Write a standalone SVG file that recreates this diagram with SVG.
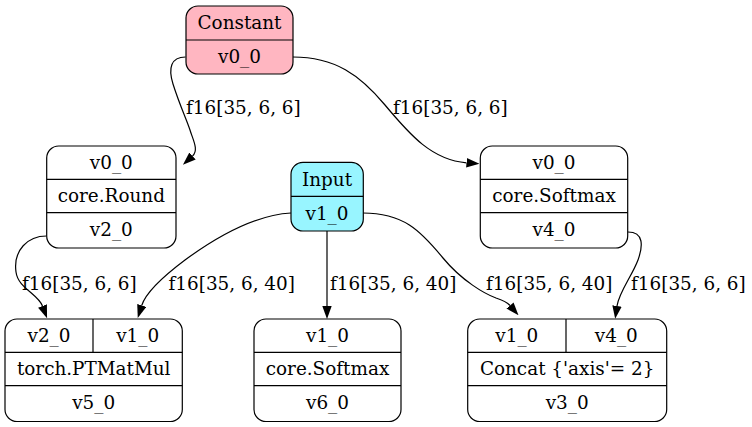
<svg xmlns="http://www.w3.org/2000/svg" width="752" height="427" viewBox="0 0 752 427">
<style>
text{font-family:"DejaVu Serif","Liberation Serif",serif;font-size:18.4px;fill:#000}
.c{text-anchor:middle}
.box{stroke:#000;stroke-width:1.2}
.div{stroke:#000;stroke-width:1.2;fill:none}
.e{fill:none;stroke:#000;stroke-width:1.2}
</style>
<defs>
<marker id="ah" viewBox="0 0 13 9.4" refX="0" refY="4.7" markerWidth="13" markerHeight="9.4" markerUnits="userSpaceOnUse" orient="auto">
<path d="M0,0 L13,4.7 L0,9.4 Z" fill="#000"/>
</marker>
</defs>
<rect width="752" height="427" fill="#fff"/>
<g id="edges">
<path class="e" marker-end="url(#ah)" d="M185.5,57 C171,57 168,68 173,84 C180,106 186,118 190,130 C193,140 199,150 192.5,156"/>
<path class="e" marker-end="url(#ah)" d="M293,57 C335,57 360,75 385,105 C410,135 432,160 466.5,162.8"/>
<path class="e" marker-end="url(#ah)" d="M46.5,236 C28,236 13,250 16,272 C18,288 38,294 42.5,306"/>
<path class="e" marker-end="url(#ah)" d="M291,213 C255,215 215,238 185,260 C165,275 146,292 141.7,305.5"/>
<path class="e" marker-end="url(#ah)" d="M327,231 L327,306"/>
<path class="e" marker-end="url(#ah)" d="M363,213 C403,213 420,230 443,258 C462,281 485,294 496,298 C502,300 507,302 510,305.5"/>
<path class="e" marker-end="url(#ah)" d="M628,232 C644,232 643,246 638,260 C632,276 619,292 617,306"/>
<text x="186" y="114">f16[35, 6, 6]</text>
<text x="393" y="114">f16[35, 6, 6]</text>
<text x="22" y="290">f16[35, 6, 6]</text>
<text x="168.5" y="290">f16[35, 6, 40]</text>
<text x="330" y="290">f16[35, 6, 40]</text>
<text x="486" y="290">f16[35, 6, 40]</text>
<text x="631" y="290">f16[35, 6, 6]</text>
</g>
<g id="node_constant">
<rect class="box" x="186" y="6" width="107" height="68" rx="12" fill="#FFB6C1"/>
<line class="div" x1="186" y1="40" x2="293" y2="40"/>
<text class="c" x="239.5" y="29">Constant</text>
<text class="c" x="239.5" y="63">v0_0</text>
</g>
<g id="node_round">
<rect class="box" x="46.7" y="146" width="129.3" height="102" rx="12" fill="#fff"/>
<line class="div" x1="46.7" y1="179.3" x2="176" y2="179.3"/>
<line class="div" x1="46.7" y1="212.7" x2="176" y2="212.7"/>
<text class="c" x="111.3" y="168.5">v0_0</text>
<text class="c" x="111.3" y="202">core.Round</text>
<text class="c" x="111.3" y="235.5">v2_0</text>
</g>
<g id="node_input">
<rect class="box" x="291" y="162.3" width="72.3" height="68.7" rx="12" fill="#98F5FF"/>
<line class="div" x1="291" y1="196.3" x2="363.3" y2="196.3"/>
<text class="c" x="327" y="185.5">Input</text>
<text class="c" x="327" y="219.5">v1_0</text>
</g>
<g id="node_softmax4">
<rect class="box" x="480.3" y="146" width="147.4" height="102" rx="12" fill="#fff"/>
<line class="div" x1="480.3" y1="179.3" x2="627.7" y2="179.3"/>
<line class="div" x1="480.3" y1="212.7" x2="627.7" y2="212.7"/>
<text class="c" x="554" y="168.5">v0_0</text>
<text class="c" x="554" y="202">core.Softmax</text>
<text class="c" x="554" y="235.5">v4_0</text>
</g>
<g id="node_matmul">
<rect class="box" x="5" y="319" width="177.3" height="102.5" rx="12" fill="#fff"/>
<line class="div" x1="5" y1="352.3" x2="182.3" y2="352.3"/>
<line class="div" x1="5" y1="385.7" x2="182.3" y2="385.7"/>
<line class="div" x1="93" y1="319" x2="93" y2="352.3"/>
<text class="c" x="49" y="341.5">v2_0</text>
<text class="c" x="137.7" y="341.5">v1_0</text>
<text class="c" x="93.7" y="375">torch.PTMatMul</text>
<text class="c" x="93.7" y="408.5">v5_0</text>
</g>
<g id="node_softmax6">
<rect class="box" x="254" y="319" width="147" height="102.5" rx="12" fill="#fff"/>
<line class="div" x1="254" y1="352.3" x2="401" y2="352.3"/>
<line class="div" x1="254" y1="385.7" x2="401" y2="385.7"/>
<text class="c" x="327.5" y="341.5">v1_0</text>
<text class="c" x="327.5" y="375">core.Softmax</text>
<text class="c" x="327.5" y="408.5">v6_0</text>
</g>
<g id="node_concat">
<rect class="box" x="467.7" y="319" width="199" height="102.5" rx="12" fill="#fff"/>
<line class="div" x1="467.7" y1="352.3" x2="666.7" y2="352.3"/>
<line class="div" x1="467.7" y1="385.7" x2="666.7" y2="385.7"/>
<line class="div" x1="566" y1="319" x2="566" y2="352.3"/>
<text class="c" x="516.8" y="341.5">v1_0</text>
<text class="c" x="616.3" y="341.5">v4_0</text>
<text class="c" x="567.2" y="375">Concat {'axis'= 2}</text>
<text class="c" x="567.2" y="408.5">v3_0</text>
</g>
</svg>
